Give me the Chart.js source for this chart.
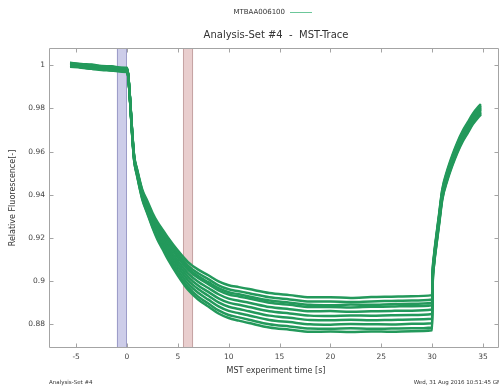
<!DOCTYPE html>
<html>
<head>
<meta charset="utf-8">
<title>Analysis-Set #4 - MST-Trace</title>
<script src="https://cdn.jsdelivr.net/npm/chart.js@4.4.1/dist/chart.umd.min.js"></script>
<style>
  html, body { margin: 0; padding: 0; background: #fff; overflow: hidden; }
  #wrap { position: relative; width: 499px; height: 388px; }
</style>
</head>
<body>
<div id="wrap"><canvas id="mst-chart"></canvas></div>
<script>
// time axis [s], shared by every capillary trace
const times = [
  -5.6, -4.5, -3.5, -2.5, -1.5, -0.5, 0,
  0.1, 0.3, 0.5, 0.7, 1, 1.5, 2, 2.5, 3, 3.5, 4, 5, 6, 7, 8, 9, 10, 11, 12,
  14, 16, 18, 20, 22, 24, 26, 28, 30,
  30.05, 30.2, 30.4, 30.7, 31, 31.5, 32, 32.5, 33, 33.5, 34, 34.5, 34.8
];

// relative fluorescence per capillary
const trace1 = [
  1.0010, 1.0004, 1.0001, 0.9995, 0.9993, 0.9987, 0.9985,
  0.9962, 0.9845, 0.9699, 0.9582, 0.9517, 0.9424, 0.9371, 0.9317, 0.9273, 0.9238, 0.9203, 0.9141, 0.9088, 0.9053, 0.9027, 0.8999, 0.8981, 0.8972, 0.8963,
  0.8945, 0.8935, 0.8925, 0.8925, 0.8922, 0.8926, 0.8928, 0.8930, 0.8935,
  0.9038, 0.9125, 0.9205, 0.9315, 0.9425, 0.9515, 0.9585, 0.9645, 0.9695, 0.9735, 0.9775, 0.9805, 0.9820
];
const trace2 = [
  0.9996, 0.9992, 0.9985, 0.9983, 0.9977, 0.9975, 0.9971,
  0.9961, 0.9844, 0.9697, 0.9579, 0.9513, 0.9418, 0.9363, 0.9308, 0.9263, 0.9226, 0.9190, 0.9127, 0.9072, 0.9036, 0.9009, 0.8980, 0.8962, 0.8953, 0.8944,
  0.8925, 0.8915, 0.8905, 0.8905, 0.8903, 0.8906, 0.8908, 0.8910, 0.8915,
  0.9027, 0.9118, 0.9198, 0.9308, 0.9418, 0.9508, 0.9578, 0.9638, 0.9688, 0.9728, 0.9768, 0.9798, 0.9813
];
const trace3 = [
  1.0004, 1.0001, 0.9994, 0.9992, 0.9986, 0.9984, 0.9980,
  0.9961, 0.9843, 0.9695, 0.9577, 0.9510, 0.9414, 0.9358, 0.9302, 0.9255, 0.9218, 0.9181, 0.9116, 0.9060, 0.9023, 0.8995, 0.8967, 0.8948, 0.8939, 0.8929,
  0.8910, 0.8900, 0.8890, 0.8888, 0.8891, 0.8890, 0.8893, 0.8895, 0.8900,
  0.9018, 0.9112, 0.9192, 0.9302, 0.9412, 0.9502, 0.9572, 0.9632, 0.9682, 0.9722, 0.9762, 0.9792, 0.9807
];
const trace4 = [
  0.9993, 0.9989, 0.9984, 0.9978, 0.9976, 0.9970, 0.9969,
  0.9961, 0.9842, 0.9694, 0.9576, 0.9508, 0.9411, 0.9354, 0.9297, 0.9250, 0.9212, 0.9175, 0.9109, 0.9052, 0.9014, 0.8986, 0.8957, 0.8938, 0.8929, 0.8919,
  0.8900, 0.8890, 0.8880, 0.8880, 0.8878, 0.8881, 0.8882, 0.8884, 0.8888,
  0.9012, 0.9108, 0.9188, 0.9298, 0.9408, 0.9498, 0.9568, 0.9628, 0.9678, 0.9718, 0.9758, 0.9788, 0.9803
];
const trace5 = [
  1.0007, 1.0001, 0.9998, 0.9993, 0.9988, 0.9986, 0.9982,
  0.9960, 0.9841, 0.9692, 0.9573, 0.9504, 0.9406, 0.9347, 0.9289, 0.9240, 0.9201, 0.9162, 0.9094, 0.9036, 0.8997, 0.8968, 0.8939, 0.8919, 0.8909, 0.8900,
  0.8880, 0.8870, 0.8860, 0.8861, 0.8858, 0.8860, 0.8862, 0.8863, 0.8868,
  0.9005, 0.9103, 0.9183, 0.9293, 0.9403, 0.9493, 0.9563, 0.9623, 0.9673, 0.9713, 0.9753, 0.9783, 0.9798
];
const trace6 = [
  1.0000, 0.9996, 0.9989, 0.9986, 0.9983, 0.9977, 0.9976,
  0.9959, 0.9840, 0.9690, 0.9570, 0.9500, 0.9400, 0.9340, 0.9280, 0.9230, 0.9190, 0.9150, 0.9080, 0.9020, 0.8980, 0.8950, 0.8920, 0.8900, 0.8890, 0.8880,
  0.8860, 0.8850, 0.8840, 0.8838, 0.8841, 0.8840, 0.8842, 0.8843, 0.8848,
  0.8997, 0.9098, 0.9178, 0.9288, 0.9398, 0.9488, 0.9558, 0.9618, 0.9668, 0.9708, 0.9748, 0.9778, 0.9793
];
const trace7 = [
  1.0012, 1.0006, 1.0003, 0.9997, 0.9995, 0.9989, 0.9988,
  0.9960, 0.9839, 0.9688, 0.9567, 0.9496, 0.9394, 0.9333, 0.9271, 0.9220, 0.9179, 0.9138, 0.9066, 0.9004, 0.8963, 0.8932, 0.8901, 0.8881, 0.8871, 0.8860,
  0.8840, 0.8830, 0.8820, 0.8819, 0.8821, 0.8818, 0.8820, 0.8822, 0.8825,
  0.8988, 0.9092, 0.9172, 0.9282, 0.9392, 0.9482, 0.9552, 0.9612, 0.9662, 0.9702, 0.9742, 0.9772, 0.9787
];
const trace8 = [
  0.9998, 0.9992, 0.9989, 0.9983, 0.9979, 0.9977, 0.9973,
  0.9959, 0.9838, 0.9686, 0.9564, 0.9492, 0.9389, 0.9326, 0.9263, 0.9210, 0.9168, 0.9125, 0.9051, 0.8988, 0.8946, 0.8914, 0.8883, 0.8862, 0.8851, 0.8841,
  0.8820, 0.8810, 0.8800, 0.8798, 0.8801, 0.8800, 0.8799, 0.8802, 0.8805,
  0.8980, 0.9087, 0.9167, 0.9277, 0.9387, 0.9477, 0.9547, 0.9607, 0.9657, 0.9697, 0.9737, 0.9767, 0.9782
];
const trace9 = [
  1.0003, 0.9999, 0.9992, 0.9990, 0.9984, 0.9981, 0.9979,
  0.9959, 0.9836, 0.9684, 0.9562, 0.9488, 0.9383, 0.9318, 0.9254, 0.9200, 0.9156, 0.9113, 0.9037, 0.8972, 0.8928, 0.8896, 0.8864, 0.8843, 0.8832, 0.8821,
  0.8800, 0.8790, 0.8780, 0.8779, 0.8781, 0.8779, 0.8780, 0.8781, 0.8785,
  0.8973, 0.9082, 0.9162, 0.9272, 0.9382, 0.9472, 0.9542, 0.9602, 0.9652, 0.9692, 0.9732, 0.9762, 0.9777
];
const trace10 = [
  0.9995, 0.9991, 0.9984, 0.9982, 0.9976, 0.9974, 0.9970,
  0.9958, 0.9835, 0.9682, 0.9559, 0.9485, 0.9379, 0.9313, 0.9248, 0.9192, 0.9148, 0.9103, 0.9026, 0.8960, 0.8915, 0.8882, 0.8850, 0.8829, 0.8817, 0.8806,
  0.8785, 0.8775, 0.8765, 0.8766, 0.8764, 0.8767, 0.8765, 0.8768, 0.8772,
  0.8964, 0.9076, 0.9156, 0.9266, 0.9376, 0.9466, 0.9536, 0.9596, 0.9646, 0.9686, 0.9726, 0.9756, 0.9771
];
const traces = [trace1, trace2, trace3, trace4, trace5, trace6, trace7, trace8, trace9, trace10];

const xTicks = [-5, 0, 5, 10, 15, 20, 25, 30, 35];
const yTicks = [0.88, 0.9, 0.92, 0.94, 0.96, 0.98, 1];

// cold (IR off) and hot (IR on) analysis windows [s]
const coldRegion = [-1, 0];
const hotRegion = [5.5, 6.5];

const seriesName = "MTBAA006100";
const titleText = "Analysis-Set #4  -  MST-Trace";
const footLeft = "Analysis-Set #4";
const footRight = "Wed, 31 Aug 2016 10:51:45 GMT";

const GREEN = "#23995b";
const AXIS = "#a4a4a4";
const FONT = '"DejaVu Sans", Verdana, sans-serif';

const datasets = traces.map((vals, i) => ({
  label: i === 0 ? seriesName : "",
  data: times.map((t, j) => ({ x: t, y: vals[j] })),
  borderColor: GREEN,
  borderWidth: 2.5,
  pointRadius: 0,
  showLine: true,
  fill: false,
  cubicInterpolationMode: "monotone",
  borderJoinStyle: "round",
}));

// regions behind the traces, frame with inward ticks, and all the text
const decorations = {
  id: "decorations",
  beforeDatasetsDraw(chart) {
    const { ctx, chartArea: a, scales: { x } } = chart;
    const band = (r, fillCol, lineCol) => {
      const x0 = x.getPixelForValue(r[0]);
      const x1 = x.getPixelForValue(r[1]);
      ctx.save();
      ctx.fillStyle = fillCol;
      ctx.fillRect(x0, a.top, x1 - x0, a.bottom - a.top);
      ctx.strokeStyle = lineCol;
      ctx.lineWidth = 1;
      ctx.beginPath();
      ctx.moveTo(Math.round(x0) + 0.5, a.top);
      ctx.lineTo(Math.round(x0) + 0.5, a.bottom);
      ctx.moveTo(Math.round(x1) - 0.5, a.top);
      ctx.lineTo(Math.round(x1) - 0.5, a.bottom);
      ctx.stroke();
      ctx.restore();
    };
    band(coldRegion, "#cdcde9", "#9d9dc9");
    band(hotRegion, "#e9cece", "#c6a4a4");
  },
  afterDatasetsDraw(chart) {
    const { ctx, chartArea: a, scales: { x, y } } = chart;
    const L = Math.round(a.left) + 0.5, R = Math.round(a.right) - 0.5;
    const T = Math.round(a.top) + 0.5, B = Math.round(a.bottom) - 0.5;
    ctx.save();
    ctx.strokeStyle = AXIS;
    ctx.lineWidth = 1;
    ctx.beginPath();
    ctx.rect(L, T, R - L, B - T);
    const tl = 4;
    x.ticks.forEach((tk) => {
      const px = Math.round(x.getPixelForValue(tk.value)) + 0.5;
      ctx.moveTo(px, B); ctx.lineTo(px, B - tl);
      ctx.moveTo(px, T); ctx.lineTo(px, T + tl);
    });
    y.ticks.forEach((tk) => {
      const py = Math.round(y.getPixelForValue(tk.value)) + 0.5;
      ctx.moveTo(L, py); ctx.lineTo(L + tl, py);
      ctx.moveTo(R, py); ctx.lineTo(R - tl, py);
    });
    ctx.stroke();
    ctx.restore();
  },
  afterDraw(chart) {
    const { ctx, chartArea: a } = chart;
    ctx.save();
    ctx.fillStyle = "#333";
    ctx.textBaseline = "middle";

    // legend entry
    ctx.font = "7px " + FONT;
    ctx.textAlign = "right";
    ctx.fillText(seriesName, 285, 12.5);
    ctx.strokeStyle = "#6cc79a";
    ctx.lineWidth = 1;
    ctx.beginPath();
    ctx.moveTo(290, 12.5);
    ctx.lineTo(312, 12.5);
    ctx.stroke();

    // title
    ctx.font = "10px " + FONT;
    ctx.textAlign = "center";
    ctx.fillText(titleText, 276, 35);

    // axis titles
    ctx.font = "8px " + FONT;
    ctx.fillText("MST experiment time [s]", 276, 371);
    ctx.save();
    ctx.translate(13, (a.top + a.bottom) / 2);
    ctx.rotate(-Math.PI / 2);
    ctx.fillText("Relative Fluorescence[-]", 0, 0);
    ctx.restore();

    // footer
    ctx.font = "5.5px " + FONT;
    ctx.textAlign = "left";
    ctx.fillText(footLeft, 49, 382.5);
    ctx.textAlign = "right";
    ctx.fillText(footRight, 505, 382.5);
    ctx.restore();
  },
};

new Chart(document.getElementById("mst-chart"), {
  type: "scatter",
  data: { datasets },
  options: {
    responsive: true,
    maintainAspectRatio: false,
    animation: false,
    layout: { padding: { top: 48, left: 0, right: 0, bottom: 0 } },
    plugins: {
      legend: { display: false },
      title: { display: false },
      tooltip: { enabled: false },
    },
    scales: {
      x: {
        type: "linear",
        min: -7.67,
        max: 36.58,
        afterFit: (s) => { s.height = 40; },
        afterBuildTicks: (s) => { s.ticks = xTicks.map((v) => ({ value: v })); },
        grid: { display: false, drawTicks: false },
        border: { display: false },
        ticks: {
          padding: 5,
          color: "#444",
          font: { family: FONT, size: 7.5 },
          callback: (v) => String(v),
        },
      },
      y: {
        type: "linear",
        min: 0.869,
        max: 1.008,
        afterFit: (s) => { s.width = 49; },
        afterBuildTicks: (s) => { s.ticks = yTicks.map((v) => ({ value: v })); },
        grid: { display: false, drawTicks: false },
        border: { display: false },
        ticks: {
          padding: 4,
          color: "#444",
          font: { family: FONT, size: 7.5 },
          callback: (v) => String(v),
        },
      },
    },
  },
  plugins: [decorations],
});
</script>
</body>
</html>
